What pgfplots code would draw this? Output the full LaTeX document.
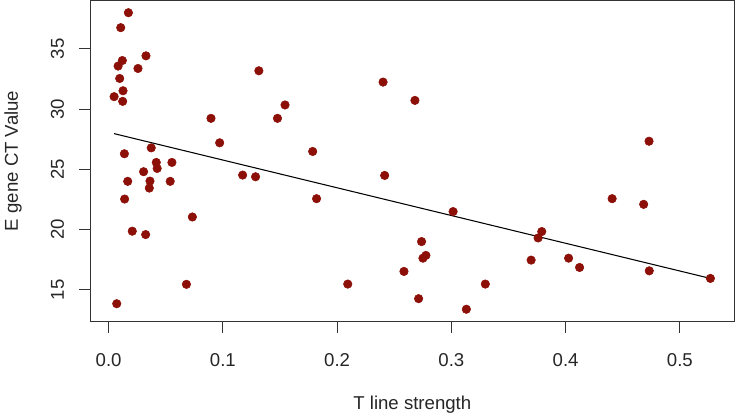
\documentclass[border=0pt]{standalone}
\usepackage{fontspec}
\setmainfont{Liberation Sans}
\usepackage{pgfplots}
\pgfplotsset{compat=1.18}
\definecolor{ptred}{RGB}{140,16,8}
\begin{document}
\begin{tikzpicture}
\begin{axis}[
  scale only axis,
  width=484.5pt, height=241.2pt,
  xmin=-0.016, xmax=0.5476,
  ymin=12.385, ymax=39.0,
  axis line style={line width=0.9pt, black!80},
  tick align=outside,
  tick pos=left,
  major tick length=8.6pt,
  tick style={line width=0.8pt, black!80},
  xtick={0,0.1,0.2,0.3,0.4,0.5},
  xticklabels={0.0,0.1,0.2,0.3,0.4,0.5},
  ytick={15,20,25,30,35},
  /pgf/number format/assume math mode=true,
  ticklabel style={font=\fontsize{14}{16}\selectfont, text=black!85},
  xticklabel style={anchor=base},
  yticklabel style={rotate=90, anchor=base},
  xticklabel shift=25.4pt,
  yticklabel shift=11.4pt,
  xlabel={T line strength},
  ylabel={E gene CT Value},
  label style={font=\fontsize{14}{16}\selectfont, text=black!85},
  xlabel style={at={(axis description cs:0.5,-0.27488)}, anchor=base},
  ylabel style={at={(axis description cs:-0.11249,0.5)}, anchor=base, rotate=0},
]
\addplot[only marks, mark=*, mark size=3.2pt, mark options={fill=ptred, draw=ptred}] coordinates {
(0.0173,38.0) (0.0106,36.76) (0.012,34.03) (0.0083,33.57) (0.0327,34.42)
(0.0257,33.37) (0.0097,32.54) (0.0126,31.52) (0.0048,31.03) (0.0123,30.64)
(0.1315,33.18) (0.0896,29.23) (0.1478,29.23) (0.0972,27.2) (0.0138,26.29)
(0.0373,26.78) (0.0417,25.57) (0.0554,25.57) (0.0425,25.07) (0.0306,24.80)
(0.1173,24.52) (0.1286,24.38) (0.0167,24.0) (0.0362,24.02) (0.0356,23.44)
(0.0539,24.0) (0.014,22.53) (0.0733,21.04) (0.0207,19.86) (0.0324,19.58)
(0.0681,15.45) (0.0071,13.84) (0.1544,30.34) (0.2402,32.24) (0.2681,30.72)
(0.1786,26.48) (0.2416,24.49) (0.182,22.56) (0.3015,21.49) (0.2739,19.0)
(0.2777,17.85) (0.2751,17.62) (0.2585,16.52) (0.2093,15.47) (0.2713,14.26)
(0.3297,15.47) (0.3131,13.38) (0.473,27.33) (0.4407,22.56) (0.4683,22.09)
(0.3791,19.83) (0.3759,19.30) (0.3698,17.46) (0.4026,17.62) (0.4122,16.85)
(0.4732,16.57) (0.5267,15.94)
};
\addplot[black, line width=0.8pt] coordinates {(0.0048,27.96) (0.5267,15.94)};
\end{axis}
\path[use as bounding box] (-66pt,-69.5pt) rectangle (485.8pt,241.7pt);
\end{tikzpicture}
\end{document}
